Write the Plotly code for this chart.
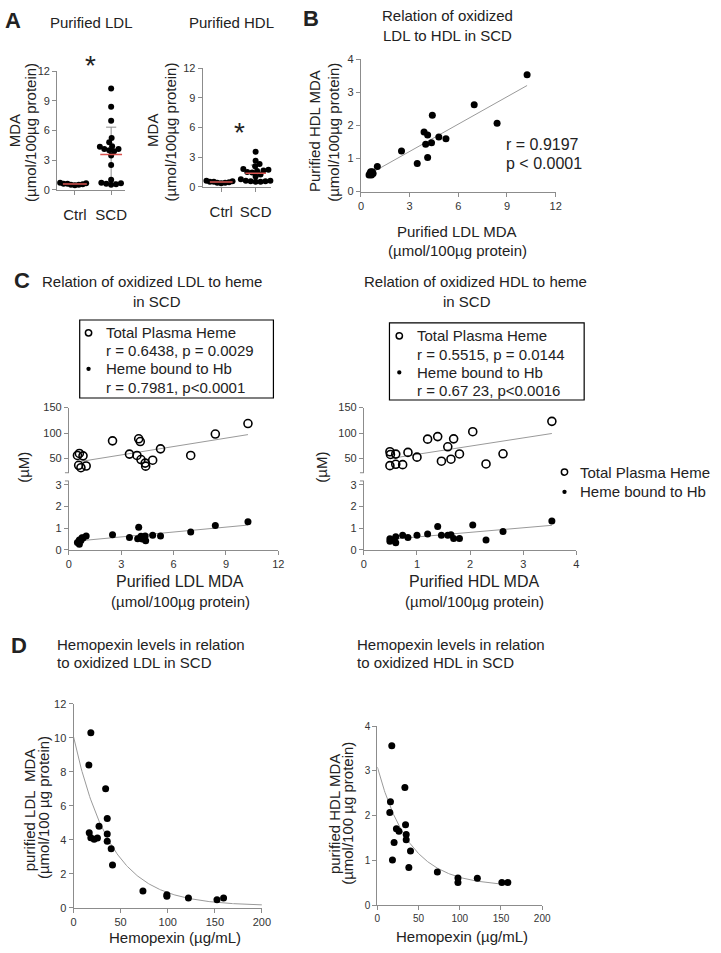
import numpy as np
import plotly.graph_objects as go

W, H = 721, 953
FONT = "Arial, 'Liberation Sans', Helvetica, sans-serif"

# ---------------- data ----------------
# Panel A (MDA, umol/100ug protein)
a_categories = ["Ctrl", "SCD"]
a_ldl_ctrl = [0.45, 0.5, 0.5, 0.55, 0.6, 0.6, 0.65, 0.7]
a_hdl_ctrl = [0.35, 0.4, 0.4, 0.45, 0.5, 0.5, 0.55, 0.6]

# Panel B : purified LDL MDA vs purified HDL MDA (SCD)
b_ldl = [10.24, 6.98, 8.39, 4.40, 3.89, 4.11, 3.99, 4.35, 4.80, 5.24,
         4.11, 3.47, 2.50, 1.01, 0.50, 0.55, 0.60, 0.65, 0.70, 0.75]
b_hdl = [3.53, 2.63, 2.07, 2.31, 1.80, 1.71, 1.43, 1.48, 1.65, 1.60,
         1.03, 0.85, 1.23, 0.76, 0.50, 0.55, 0.60, 0.50, 0.60, 0.55]
b_r_text = ["r = 0.9197", "p < 0.0001"]

# Panel C left : LDL MDA vs heme (uM)
c_ldl_x_plasma = [10.26, 8.39, 6.98, 5.25, 4.80, 4.37, 4.40, 4.13, 3.90, 3.47,
                  4.00, 4.09, 2.50, 0.99, 0.81, 0.60, 0.49, 0.56, 0.69]
c_ldl_plasma = [118.7, 98, 56, 69, 46.7, 41, 35, 48, 56, 58.7,
                88.7, 83.3, 84.7, 35.3, 55.3, 60, 56, 36.7, 32]
c_ldl_x_hb = [10.26, 8.39, 6.98, 5.25, 4.80, 4.37, 4.40, 4.00, 4.13, 3.94,
              4.20, 3.47, 2.50, 0.99, 0.81, 0.60, 0.49, 0.60, 0.69, 0.75]
c_ldl_hb = [1.30, 1.12, 0.82, 0.64, 0.67, 0.64, 0.42, 1.04, 0.63, 0.51,
            0.50, 0.57, 0.70, 0.64, 0.54, 0.45, 0.34, 0.25, 0.43, 0.55]
c_left_legend = ["Total Plasma Heme", "r = 0.6438, p = 0.0029",
                 "Heme bound to Hb", "r = 0.7981, p<0.0001"]

# Panel C right : HDL MDA vs heme (uM)
c_hdl_x_plasma = [3.54, 2.05, 1.20, 1.39, 1.69, 1.58, 1.80, 1.64, 1.46, 2.62,
                  2.30, 1.00, 0.83, 0.60, 0.49, 0.50, 0.49, 0.60, 0.73]
c_hdl_plasma = [123, 102.6, 88, 93, 88.6, 73, 59, 48.7, 44.7, 59.3,
                39.3, 52.7, 62, 58.7, 63.3, 58, 36, 38.7, 38]
c_hdl_x_hb = [3.54, 2.62, 2.05, 1.39, 2.30, 1.20, 1.00, 1.46, 1.58, 1.64,
              1.69, 1.80, 0.73, 0.83, 0.60, 0.49, 0.49, 0.60, 0.52]
c_hdl_hb = [1.33, 0.85, 1.15, 1.07, 0.45, 0.73, 0.67, 0.67, 0.67, 0.70,
            0.52, 0.52, 0.67, 0.57, 0.60, 0.51, 0.39, 0.33, 0.45]
c_right_legend = ["Total Plasma Heme", "r = 0.5515, p = 0.0144",
                  "Heme bound to Hb", "r = 0.67 23, p<0.0016"]

# Panel D : hemopexin (ug/mL) vs MDA
d_hpx_ldl = [18.4, 16.3, 34.1, 35.8, 27.1, 16.7, 35.8, 18.4, 21.9, 25.4,
             35.8, 40.0, 41.4, 73.7, 99.1, 99.1, 122.0, 152.3, 159.3]
d_ldl = [10.3, 8.4, 7.0, 5.26, 4.8, 4.41, 4.34, 4.12, 4.03, 4.1,
         3.91, 3.48, 2.52, 0.99, 0.77, 0.68, 0.58, 0.48, 0.58]
d_hpx_hdl = [17.5, 33.4, 15.9, 15.1, 34.2, 23.1, 26.2, 35.0, 35.0, 20.3,
             40.2, 18.3, 38.2, 72.8, 97.8, 97.8, 121.3, 151.1, 158.3]
d_hdl = [3.56, 2.63, 2.31, 2.07, 1.80, 1.71, 1.65, 1.58, 1.46, 1.40,
         1.21, 1.01, 0.84, 0.74, 0.61, 0.51, 0.60, 0.51, 0.51]

# ---------------- helpers ----------------
def fx(x):
    return x / W


def fy(y):
    return 1 - y / H


AXIS_COL = "#8c8c8c"
TXT = "#222222"
BASE_AX = dict(showgrid=False, zeroline=False, showline=True, linecolor=AXIS_COL,
               linewidth=1, ticks="outside", ticklen=4, tickcolor=AXIS_COL,
               tickwidth=1, tickfont=dict(size=11, color="#333333"), fixedrange=True)

layout = dict(width=W, height=H, margin=dict(l=0, r=0, t=0, b=0),
              paper_bgcolor="white", plot_bgcolor="white", showlegend=False,
              font=dict(family=FONT, color=TXT))


def set_x(n, x0, x1, rng, tickvals, anchor, **kw):
    d = dict(BASE_AX)
    d.update(domain=[fx(x0), fx(x1)], range=rng, tickvals=tickvals, anchor=anchor)
    d.update(kw)
    layout["xaxis" + ("" if n == 1 else str(n))] = d


def set_y(n, ytop, ybot, rng, tickvals, anchor, **kw):
    d = dict(BASE_AX)
    d.update(domain=[fy(ybot), fy(ytop)], range=rng, tickvals=tickvals, anchor=anchor)
    d.update(kw)
    layout["yaxis" + ("" if n == 1 else str(n))] = d


annotations = []
shapes = []


def ann(text, x, y, size=15, xanchor="center", angle=0, color=TXT, family=FONT):
    annotations.append(dict(text=text, x=fx(x), y=fy(y), xref="paper", yref="paper",
                            xanchor=xanchor, yanchor="middle", showarrow=False,
                            textangle=angle, font=dict(size=size, color=color, family=family)))


def swarm(vals, ppu_y, ppu_x, dmin):
    vals = np.asarray(vals, float)
    order = np.argsort(vals, kind="stable")
    steps = [0.0]
    for k in range(1, 80):
        steps += [k * 0.5, -k * 0.5]
    placed = []
    off = np.zeros(len(vals))
    for i in order:
        yy = vals[i] * ppu_y
        chosen = 0.0
        for s in steps:
            if all((s - a) ** 2 + (yy - b) ** 2 >= dmin ** 2 for a, b in placed):
                chosen = s
                break
        placed.append((chosen, yy))
        off[i] = chosen / ppu_x
    return off


def exp_fit(x, y):
    x = np.asarray(x, float)
    y = np.asarray(y, float)
    best = None
    for k in np.linspace(0.002, 0.2, 2000):
        A = np.column_stack([np.ones_like(x), np.exp(-k * x)])
        coef, *_ = np.linalg.lstsq(A, y, rcond=None)
        res = np.sum((A @ coef - y) ** 2)
        if best is None or res < best[0]:
            best = (res, k, coef)
    return best[1], best[2]


traces = []


def scat(x, y, xa, ya, **kw):
    d = dict(x=list(x), y=list(y), xaxis=xa, yaxis=ya, hoverinfo="skip", cliponaxis=False)
    d.update(kw)
    traces.append(go.Scatter(**d))


DOT = dict(mode="markers", marker=dict(color="black", size=7, line=dict(width=0)))
OPEN = dict(mode="markers", marker=dict(color="black", size=8, symbol="circle-open",
                                        line=dict(width=1.6, color="black")))
FITLINE = dict(mode="lines", line=dict(color="#9a9a9a", width=1))
RED = "#d9534f"

# ---------------- Panel A ----------------
ldl_scd = b_ldl
hdl_scd = b_hdl
set_x(1, 55, 124, [-0.49, 1.38], [0, 1], "y", ticktext=a_categories,
      tickfont=dict(size=15, color=TXT), ticklabelstandoff=7)
set_y(1, 66, 186, [0, 12], [0, 3, 6, 9, 12], "x")
set_x(2, 203, 273, [-0.54, 1.46], [0, 1], "y2", ticktext=a_categories,
      tickfont=dict(size=15, color=TXT), ticklabelstandoff=7)
set_y(2, 63, 183, [0, 12], [0, 3, 6, 9, 12], "x2")

for (xa, ya, groups, ppx) in [("x", "y", [a_ldl_ctrl, ldl_scd], 37.0),
                              ("x2", "y2", [a_hdl_ctrl, hdl_scd], 35.0)]:
    for ci, g in enumerate(groups):
        g = np.asarray(g, float)
        m, sd = g.mean(), g.std(ddof=1)
        cap = 0.14
        # SD bar
        scat([ci, ci, None, ci - cap, ci + cap, None, ci - cap, ci + cap],
             [m - sd, m + sd, None, m + sd, m + sd, None, m - sd, m - sd], xa, ya,
             mode="lines", line=dict(color="#8c8c8c", width=1))
        off = swarm(g, 10.0, ppx, 3.6 if ci == 0 else 5.0)
        scat(ci + off, g, xa, ya, mode="markers",
             marker=dict(color="black", size=6, line=dict(width=0)))
        hw = 0.33 if ci == 0 else 0.3
        scat([ci - hw, ci + hw], [m, m], xa, ya, mode="lines", line=dict(color=RED, width=1.6))

ann("<b>A</b>", 10, 15, size=22)
ann("Purified LDL", 90, 17)
ann("Purified HDL", 232, 17)
ann("MDA", 12, 126, angle=-90)
ann("(µmol/100µg protein)", 28, 128, angle=-90)
ann("MDA", 152, 126, angle=-90)
ann("(µmol/100µg protein)", 170, 128, angle=-90)
ann("*", 89, 60, size=28)
ann("*", 241, 128, size=28)

# ---------------- Panel B ----------------
set_x(3, 364, 562, [0, 12], [0, 3, 6, 9, 12], "y3")
set_y(3, 54, 188, [0, 4], [0, 1, 2, 3, 4], "x3")
bx = np.asarray(b_ldl)
by = np.asarray(b_hdl)
s, c = np.polyfit(bx, by, 1)
xl = np.array([bx.min(), bx.max()])
scat(xl, s * xl + c, "x3", "y3", **FITLINE)
scat(bx, by, "x3", "y3", **DOT)
ann("<b>B</b>", 313, 13, size=22)
ann("Relation of oxidized", 452, 10)
ann("LDL to HDL in SCD", 452, 30)
ann("Purified HDL MDA", 317, 127, angle=-90)
ann("(µmol/100µg protein)", 336, 128, angle=-90)
ann("Purified LDL MDA", 462, 228)
ann("(µmol/100µg protein)", 462, 248)
ann(b_r_text[0], 509, 140, size=16, xanchor="left")
ann(b_r_text[1], 509, 160, size=16, xanchor="left")

# ---------------- Panel C ----------------
TOP_Y = (406.7, 472.7)
BOT_Y = (481.0, 550.7)
top_rng = [150 - (TOP_Y[1] - TOP_Y[0]) / 0.516, 150]
bot_rng = [0, (BOT_Y[1] - BOT_Y[0]) / 21.9]

set_x(4, 67, 280, [0, 12], [0, 3, 6, 9, 12], "y4")
set_y(4, BOT_Y[0], BOT_Y[1], bot_rng, [0, 1, 2, 3], "x4")
set_y(5, TOP_Y[0], TOP_Y[1], top_rng, [50, 100, 150], "x4")
set_x(6, 367, 583, [0, 4], [0, 1, 2, 3, 4], "y6")
set_y(6, BOT_Y[0], BOT_Y[1], bot_rng, [0, 1, 2, 3], "x6")
set_y(7, TOP_Y[0], TOP_Y[1], top_rng, [50, 100, 150], "x6")

for (xa, ytop, ybot, xp, yp, xh, yh) in [
        ("x4", "y5", "y4", c_ldl_x_plasma, c_ldl_plasma, c_ldl_x_hb, c_ldl_hb),
        ("x6", "y7", "y6", c_hdl_x_plasma, c_hdl_plasma, c_hdl_x_hb, c_hdl_hb)]:
    xp = np.asarray(xp); yp = np.asarray(yp)
    xh = np.asarray(xh); yh = np.asarray(yh)
    s1, c1 = np.polyfit(xp, yp, 1)
    l1 = np.array([xp.min(), xp.max()])
    scat(l1, s1 * l1 + c1, xa, ytop, **FITLINE)
    s2, c2 = np.polyfit(xh, yh, 1)
    l2 = np.array([xh.min(), xh.max()])
    scat(l2, s2 * l2 + c2, xa, ybot, **FITLINE)
    scat(xp, yp, xa, ytop, **OPEN)
    scat(xh, yh, xa, ybot, **DOT)

# axis break stubs
for ax_x in (67, 367):
    for yy in (TOP_Y[1], BOT_Y[0]):
        shapes.append(dict(type="line", xref="paper", yref="paper",
                           x0=fx(ax_x - 4), x1=fx(ax_x), y0=fy(yy), y1=fy(yy),
                           line=dict(color=AXIS_COL, width=1)))

ann("<b>C</b>", 19, 278, size=22)
ann("Relation of oxidized LDL to heme", 152, 279)
ann("in SCD", 157, 299)
ann("Relation of oxidized HDL to heme", 481, 279)
ann("in SCD", 472, 299)
ann("(µM)", 20, 467, angle=-90)
ann("(µM)", 323, 467, angle=-90)
ann("Purified LDL MDA", 180, 583, size=16)
ann("(µmol/100µg protein)", 180, 603, size=15)
ann("Purified HDL MDA", 479, 583, size=16)
ann("(µmol/100µg protein)", 479, 603, size=15)


def open_circle(x, y, r=3.2):
    shapes.append(dict(type="circle", xref="paper", yref="paper", x0=fx(x - r), x1=fx(x + r),
                       y0=fy(y + r), y1=fy(y - r), line=dict(color="black", width=1.5),
                       fillcolor="white"))


def dot(x, y, r=2.2):
    shapes.append(dict(type="circle", xref="paper", yref="paper", x0=fx(x - r), x1=fx(x + r),
                       y0=fy(y + r), y1=fy(y - r), line=dict(color="black", width=0),
                       fillcolor="black"))


def legend_box(x0, y0, x1, y1, lines, ys, tx, sx):
    shapes.append(dict(type="rect", xref="paper", yref="paper", x0=fx(x0), x1=fx(x1),
                       y0=fy(y1), y1=fy(y0), line=dict(color="black", width=1.2),
                       fillcolor="rgba(0,0,0,0)"))
    for t, yy in zip(lines, ys):
        ann(t, tx, yy, size=15, xanchor="left")
    open_circle(sx, ys[0])
    dot(sx, ys[2])


legend_box(78, 318, 275, 397, c_left_legend, [331, 349, 367.5, 386], 103, 87)
legend_box(393, 321, 591, 399, c_right_legend, [334, 352.5, 371, 389.5], 419, 403)
ann(c_right_legend[0], 585, 472, size=15, xanchor="left")
ann(c_right_legend[2], 585, 492, size=15, xanchor="left")
open_circle(571, 472)
dot(571, 492)

# ---------------- Panel D ----------------
set_x(8, 71.7, 263.3, [0, 200], [0, 50, 100, 150, 200], "y8")
set_y(8, 706.7, 913.3, [0, 12], [0, 2, 4, 6, 8, 10, 12], "x8")
set_x(9, 380.7, 548.3, [0, 200], [0, 50, 100, 150, 200], "y9",
      tickfont=dict(size=10, color="#333333"))
set_y(9, 729.3, 910.7, [0, 4], [0, 1, 2, 3, 4], "x9",
      tickfont=dict(size=10, color="#333333"))

for (xa, ya, xv, yv, xend) in [("x8", "y8", d_hpx_ldl, d_ldl, 200),
                                ("x9", "y9", d_hpx_hdl, d_hdl, 155)]:
    k, coef = exp_fit(xv, yv)
    xs = np.linspace(0, xend, 200)
    scat(xs, coef[0] + coef[1] * np.exp(-k * xs), xa, ya, **FITLINE)
    scat(xv, yv, xa, ya, **DOT)

ann("<b>D</b>", 16, 648, size=22)
ann("Hemopexin levels in relation", 53, 647, xanchor="left")
ann("to oxidized LDL in SCD", 53, 665, xanchor="left")
ann("Hemopexin levels in relation", 358, 647, xanchor="left")
ann("to oxidized HDL in SCD", 358, 665, xanchor="left")
ann("purified LDL\u00a0 MDA", 27, 814, angle=-90)
ann("(µmol/100 µg protein)", 41, 812, angle=-90)
ann("purified HDL MDA", 337, 818, angle=-90)
ann("(µmol/100 µg protein)", 351, 818, angle=-90)
ann("Hemopexin (µg/mL)", 175, 943)
ann("Hemopexin (µg/mL)", 467, 942)

layout["annotations"] = annotations
layout["shapes"] = shapes

fig = go.Figure(data=traces, layout=layout)
fig.write_html("out.html", config={"displayModeBar": False, "staticPlot": True},
               post_script="document.body.style.margin='0px';")
